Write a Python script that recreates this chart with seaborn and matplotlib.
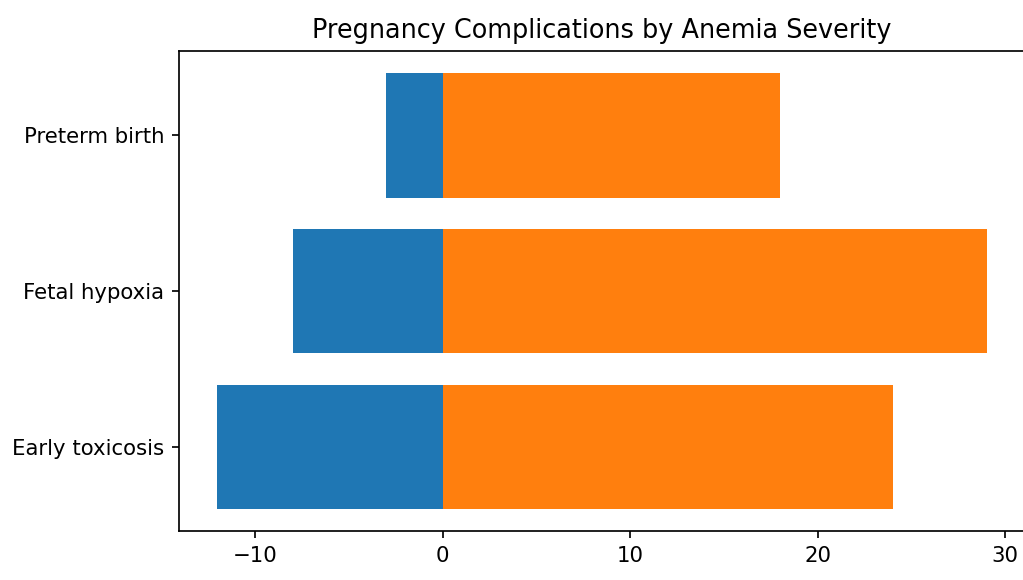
import pandas as pd
import seaborn as sns
import matplotlib.pyplot as plt

# Values (top to bottom)
complications = ['Preterm birth', 'Fetal hypoxia', 'Early toxicosis']
mild = [-3, -8, -12]
severe = [18, 29, 24]

df = pd.DataFrame({'complication': complications, 'mild': mild, 'severe': severe})

DPI = 153
fig = plt.figure(figsize=(1023 / DPI, 580 / DPI), dpi=DPI)
ax = fig.add_axes([0.175, 0.0845, 0.827, 0.8275])

sns.barplot(data=df, y='complication', x='mild', color='#1f77b4', orient='h',
            width=0.8, saturation=1, ax=ax)
sns.barplot(data=df, y='complication', x='severe', color='#ff7f0e', orient='h',
            width=0.8, saturation=1, ax=ax)

ax.set_ylim(2.54, -0.54)
ax.set_xlim(-14.05, 31.05)
ax.set_xlabel('')
ax.set_ylabel('')
ax.set_title('Pregnancy Complications by Anemia Severity')

fig.savefig('out.png', dpi=DPI)
